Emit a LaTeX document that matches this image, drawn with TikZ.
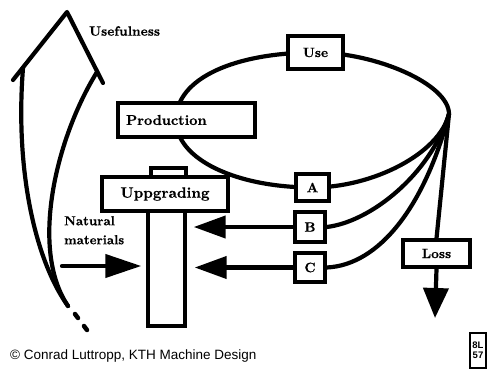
\documentclass[tikz,border=0pt]{standalone}
\usepackage{fontspec}
\newfontfamily\sansf{Liberation Sans}
\newfontfamily\heavy{lmroman10-bold.otf}[FakeBold=0.6]
\usetikzlibrary{arrows.meta,backgrounds}
\begin{document}
\begin{tikzpicture}[x=1pt,y=-1pt,
  ln/.style={line width=4.2pt, line cap=round, line join=round},
  box/.style={draw, line width=3.4pt, fill=white, inner sep=0pt, font=\heavy\fontsize{13.5}{15}\selectfont},
  bigtip/.style={-{Triangle[length=32pt,width=22pt]}},
  lbl/.style={inner sep=0pt, font=\heavy\fontsize{13.5}{15}\selectfont}
]
\useasboundingbox (0,0) rectangle (494,372);
% boxes
\node[box, minimum width=55pt, minimum height=33pt] (use) at (315.5,52.5) {Use};
\node[box, minimum width=137pt, minimum height=34pt, text width=121pt, align=left, inner xsep=8pt, font=\heavy\fontsize{14.3}{15}\selectfont] (prod) at (186.5,120) {Production};
\node[box, minimum width=35pt, minimum height=9pt] (tab) at (168.5,172.5) {};
\node[box, minimum width=126pt, minimum height=34pt, font=\heavy\fontsize{15}{16}\selectfont] (upg) at (165,194) {Uppgrading};
\node[box, minimum width=37pt, minimum height=115pt] (bar) at (166.5,268.5) {};
\node[box, minimum width=33pt, minimum height=27pt] (A) at (312.5,187.5) {A};
\node[box, minimum width=30pt, minimum height=30pt] (B) at (310,227) {B};
\node[box, minimum width=30pt, minimum height=29pt] (C) at (310,267.5) {C};
\node[box, minimum width=67pt, minimum height=27pt] (loss) at (436.5,253.5) {Loss};
% coordinates
\coordinate (L) at (176,120);
\coordinate (R) at (449,114);
\coordinate (nm) at (62,266);
\coordinate (lossend) at (435,318);
% texts
\node[lbl, anchor=west] (usef) at (89,31) {Usefulness};
\node[lbl, anchor=north west, align=left, font=\heavy\fontsize{13}{19}\selectfont] (nat) at (64,216) {Natural\\materials};
\node[anchor=west, inner sep=0pt, font=\sansf\fontsize{13.5}{15}\selectfont] (copy) at (10,356) {© Conrad Luttropp, KTH Machine Design};
\node[draw, line width=1.5pt, inner sep=1pt, align=center, font=\sansf\bfseries\fontsize{9.5}{10}\selectfont, minimum width=16pt, minimum height=35pt] (logo) at (478,350.5) {8L\\57};
% cycle and fan
\begin{scope}[on background layer]
\draw[ln] (L) .. controls +(0,-42) and +(-80,0) .. (use.center)
  .. controls +(60,0) and +(0,-30) .. (R)
  .. controls +(-10,40) and +(60,0) .. (A.center)
  .. controls +(-75,0) and +(0,40) .. (L);
\draw[ln] (B.east) .. controls (370,222) and (430,175) .. (R);
\draw[ln] (C.east) .. controls (380,265) and (425,205) .. (R);
\draw[ln] (R) -- (loss.north);
\end{scope}
% arrows
\draw[ln, bigtip, shorten >=7pt] (B.west) -- (B.west -| bar.east);
\draw[ln, bigtip, shorten >=8pt] (C.west) -- (C.west -| bar.east);
\draw[ln, -{Triangle[length=36pt,width=23pt]}, shorten >=5pt] (nm) -- (nm -| bar.west);
\draw[ln, -{Triangle[length=30pt,width=25pt]}] (loss.south) -- (lossend);
% usefulness arrow
\draw[ln] (13,80) -- (67,12) -- (103,83);
\draw[ln] (23,68) .. controls (15,170) and (35,260) .. (68,306);
\draw[ln] (97,72) .. controls (55,140) and (30,250) .. (68,306);
\draw[line width=4.5pt, line cap=round] (75,314) -- (78,318) (84,326) -- (87,330);
\end{tikzpicture}
\end{document}
